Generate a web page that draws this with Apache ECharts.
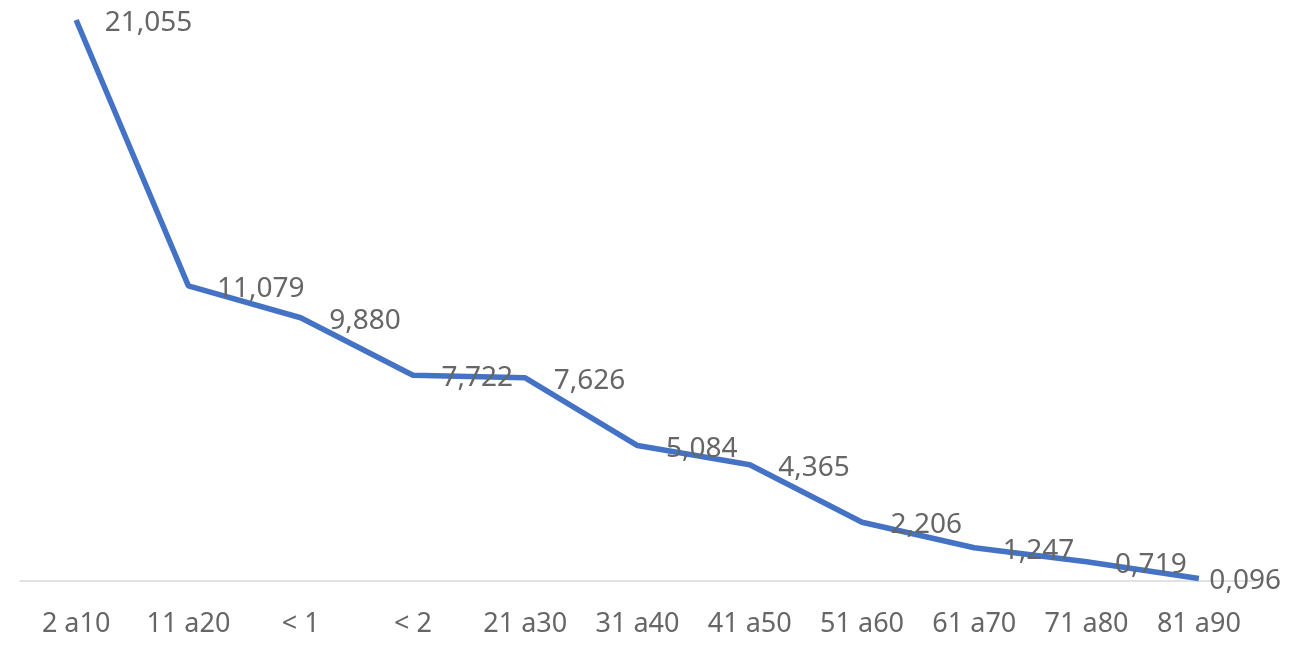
<!DOCTYPE html>
<html>
<head>
<meta charset="utf-8">
<script src="https://cdn.jsdelivr.net/npm/echarts@6/dist/echarts.min.js"></script>
<style>
html,body{margin:0;padding:0;background:#fff;}
#chart{width:1295px;height:664px;}
</style>
</head>
<body>
<div id="chart"></div>
<script>
const categories = ["2 a10", "11 a20", "< 1", "< 2", "21 a30", "31 a40", "41 a50", "51 a60", "61 a70", "71 a80", "81 a90"];
const values = [21.055, 11.079, 9.880, 7.722, 7.626, 5.084, 4.365, 2.206, 1.247, 0.719, 0.096];

const seriesData = values.map((v, i) => i === values.length - 1
  ? { value: v, label: { distance: 10 } }
  : v);

const chart = echarts.init(document.getElementById('chart'));
chart.setOption({
  animation: false,
  grid: { left: 20, right: 40, top: 20, bottom: 83 },
  xAxis: {
    type: 'category',
    data: categories,
    boundaryGap: true,
    axisLine: { show: true, lineStyle: { color: '#d9d9d9', width: 1.5 } },
    axisTick: { show: false },
    axisLabel: { color: '#666666', fontFamily: 'Noto Sans', fontSize: 27, margin: 30, interval: 0 }
  },
  yAxis: {
    type: 'value',
    min: 0,
    max: 21.055,
    show: false,
    splitLine: { show: false }
  },
  series: [{
    type: 'line',
    data: seriesData,
    symbol: 'circle',
    symbolSize: 1,
    showSymbol: true,
    itemStyle: { color: 'rgba(0,0,0,0)', borderWidth: 0 },
    lineStyle: { color: '#4472C4', width: 5.5 },
    label: {
      show: true,
      position: 'right',
      distance: 28,
      offset: [0, 3],
      color: '#666666',
      fontFamily: 'Noto Sans',
      fontSize: 28,
      formatter: p => p.value.toFixed(3).replace('.', ',')
    }
  }]
});
</script>
</body>
</html>
